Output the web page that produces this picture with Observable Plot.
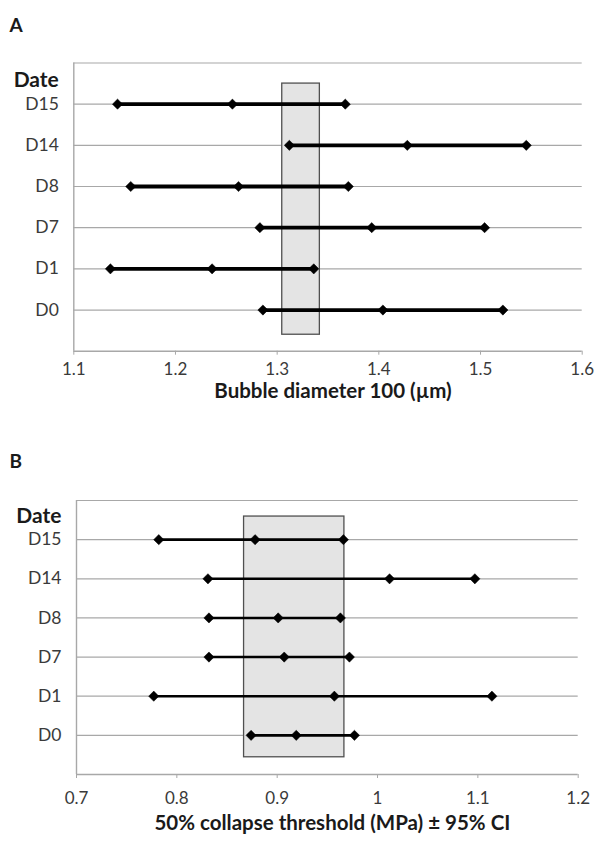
<!DOCTYPE html>
<html><head><meta charset="utf-8">
<script src="https://cdn.jsdelivr.net/npm/d3@7"></script>
<script src="https://cdn.jsdelivr.net/npm/@observablehq/plot@0.6"></script>
<style>body{margin:0;background:#fff} svg{display:block}</style>
</head><body><div id="c"></div>
<script>
// Categories (bottom to top)
const dates = ["D0","D1","D7","D8","D14","D15"];

// Panel A: bubble diameter
const diamLow  = [1.286, 1.136, 1.283, 1.156, 1.312, 1.143];
const diamMean = [1.404, 1.236, 1.393, 1.262, 1.428, 1.256];
const diamHigh = [1.522, 1.336, 1.504, 1.370, 1.545, 1.367];
const diamBand = {x1: 1.305, x2: 1.342, y1: 0.4, y2: 6.5};
const diamTicks = [1.1, 1.2, 1.3, 1.4, 1.5, 1.6];

// Panel B: 50% collapse threshold
const collLow  = [0.874, 0.777, 0.832, 0.832, 0.831, 0.782];
const collMean = [0.919, 0.957, 0.907, 0.901, 1.012, 0.878];
const collHigh = [0.977, 1.114, 0.972, 0.963, 1.097, 0.966];
const collBand = {x1: 0.867, x2: 0.967, y1: 0.44, y2: 6.59};
const collTicks = [0.7, 0.8, 0.9, 1.0, 1.1, 1.2];

const FONT = "Lato, 'Open Sans', sans-serif";
const GRID = "#a8a8a8";

// fixed speckle layout for the band texture (pattern cell 9x9)
const speck = [[1,1,"#c4c4c4"],[4,0,"#d0d0d0"],[7,2,"#bdbdbd"],[2,4,"#cacaca"],[5,5,"#c0c0c0"],
               [8,6,"#d2d2d2"],[0,7,"#c6c6c6"],[3,8,"#bebebe"],[6,3,"#d4d4d4"],[4,7,"#c8c8c8"]];

function panel(o) {
  const rows = dates.map((d, i) => ({date: d, pos: i + 1, lo: o.low[i], mid: o.mean[i], hi: o.high[i]}));
  const pts = rows.flatMap(r => [{x: r.lo, y: r.pos}, {x: r.mid, y: r.pos}, {x: r.hi, y: r.pos}]);
  const x0 = o.ticks[0], x1 = o.ticks[o.ticks.length - 1];
  const svg = Plot.plot({
    width: 600, height: o.height,
    marginTop: o.mt, marginBottom: o.mb, marginLeft: o.ml, marginRight: o.mr,
    style: {fontFamily: FONT, background: "white", overflow: "visible"},
    x: {domain: [x0, x1]},
    y: {domain: [0, 7]},
    marks: [
      Plot.ruleY(d3.range(1, 8), {stroke: GRID, strokeWidth: 1.2}),
      Plot.ruleY([0], {stroke: GRID, strokeWidth: 1.4}),
      Plot.ruleX([x0], {y1: 0, y2: 7, stroke: GRID, strokeWidth: 1.4}),
      Plot.rect([o.band], {x1: "x1", x2: "x2", y1: "y1", y2: "y2", fill: "#e4e4e4", ariaLabel: "band-fill"}),
      Plot.rect([o.band], {x1: "x1", x2: "x2", y1: "y1", y2: "y2", fill: "none", stroke: "#505050", strokeWidth: 1.3}),
      Plot.ruleY(rows, {x1: "lo", x2: "hi", y: "pos", stroke: "black", strokeWidth: o.sw}),
      Plot.dot(pts, {x: "x", y: "y", symbol: "diamond2", r: 4.6, fill: "black", stroke: "black", strokeWidth: 0.5}),
      Plot.axisX({ticks: o.ticks, tickFormat: d => String(+d.toFixed(1)), tickSize: 4, tickPadding: o.tp, stroke: GRID, fill: "#3a3a3a", fontSize: 17, label: null}),
      Plot.axisY({ticks: [1, 2, 3, 4, 5, 6], tickFormat: i => dates[i - 1], tickSize: 0, tickPadding: 15, fill: "#3a3a3a", fontSize: 17.5, label: null}),
      Plot.text([o.title], {frameAnchor: "bottom", dx: 5, dy: o.titleDy, fontSize: 20.5, fontWeight: "bold", fill: "#1a1a1a"}),
      Plot.text(["Date"], {frameAnchor: "top-left", textAnchor: "end", dx: -15, dy: o.dateDy, fontSize: 21, fontWeight: "bold", fill: "#1a1a1a"}),
      Plot.text([o.letter], {frameAnchor: "top-left", textAnchor: "start", dx: o.letterDx, dy: o.letterDy, fontSize: 19, fontWeight: "bold", fill: "#1a1a1a"})
    ]
  });
  // speckled texture pattern for the shaded band
  const pid = "speck" + o.letter;
  const s = d3.select(svg);
  const p = s.insert("defs", ":first-child").append("pattern")
    .attr("id", pid).attr("patternUnits", "userSpaceOnUse").attr("width", 9).attr("height", 9);
  p.append("rect").attr("width", 9).attr("height", 9).attr("fill", "#e4e4e4");
  for (const [sx, sy, col] of speck) {
    p.append("rect").attr("x", sx).attr("y", sy).attr("width", 1.5).attr("height", 1.5).attr("fill", col);
  }
  s.selectAll('g[aria-label="band-fill"]').attr("fill", `url(#${pid})`);
  s.selectAll('g[aria-label="band-fill"] rect').attr("fill", `url(#${pid})`);
  return svg;
}

const c = document.getElementById("c");
c.append(panel({
  low: diamLow, mean: diamMean, high: diamHigh, band: diamBand, ticks: diamTicks,
  height: 420, mt: 62.5, mb: 69.3, ml: 73.3, mr: 18.3, sw: 3.8, tp: 8,
  title: "Bubble diameter 100 (µm)", titleDy: 47, dateDy: 9.5,
  letter: "A", letterDx: -64.3, letterDy: -44.5
}));
c.append(panel({
  low: collLow, mean: collMean, high: collHigh, band: collBand, ticks: collTicks,
  height: 422, mt: 80, mb: 68, ml: 76, mr: 22.3, sw: 2.6, tp: 13,
  title: "50% collapse threshold (MPa) ± 95% CI", titleDy: 55, dateDy: 8,
  letter: "B", letterDx: -67, letterDy: -46
}));
</script>
</body></html>
